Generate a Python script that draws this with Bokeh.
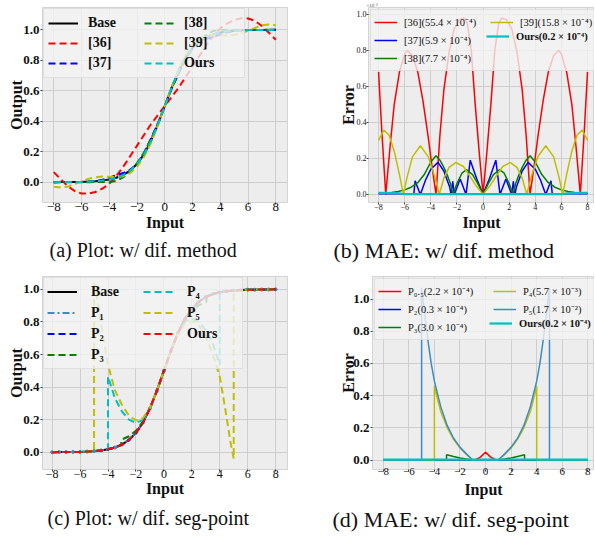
from bokeh.plotting import figure
from bokeh.models import Range1d, FixedTicker, Legend, LegendItem, Title, PrintfTickFormatter
from bokeh.layouts import row, column
from bokeh.embed import file_html
from bokeh.resources import INLINE

# ---------------- data ----------------
XTICKS = [-8, -6, -4, -2, 0, 2, 4, 6, 8]
XLABELS = {-8: "−8", -6: "−6", -4: "−4", -2: "−2", 0: "0", 2: "2", 4: "4", 6: "6", 8: "8"}
YTICKS = [0.0, 0.2, 0.4, 0.6, 0.8, 1.0]

# (a) outputs, x step 0.5
xa = [-8.0, -7.5, -7.0, -6.5, -6.0, -5.5, -5.0, -4.5, -4.0, -3.5, -3.0, -2.5, -2.0, -1.5, -1.0, -0.5, 0.0,
      0.5, 1.0, 1.5, 2.0, 2.5, 3.0, 3.5, 4.0, 4.5, 5.0, 5.5, 6.0, 6.5, 7.0, 7.5, 8.0]
base_a = [0.000, 0.001, 0.001, 0.002, 0.002, 0.004, 0.007, 0.011, 0.018, 0.029, 0.047, 0.076, 0.119, 0.182, 0.269, 0.378, 0.500,
          0.622, 0.731, 0.818, 0.881, 0.924, 0.953, 0.971, 0.982, 0.989, 0.993, 0.996, 0.998, 0.998, 0.999, 0.999, 1.000]
m36_a = [0.066, 0.020, -0.025, -0.058, -0.074, -0.075, -0.064, -0.042, -0.010, 0.040, 0.100, 0.170, 0.240, 0.310, 0.380, 0.440, 0.500,
         0.560, 0.620, 0.690, 0.760, 0.830, 0.900, 0.960, 1.010, 1.042, 1.064, 1.075, 1.074, 1.058, 1.025, 0.980, 0.934]
m37_a = [0.000, 0.001, 0.001, 0.002, 0.002, 0.004, 0.007, 0.016, 0.030, 0.046, 0.060, 0.082, 0.118, 0.190, 0.285, 0.385, 0.500,
         0.615, 0.715, 0.810, 0.882, 0.918, 0.940, 0.954, 0.970, 0.984, 0.993, 0.996, 0.998, 0.998, 0.999, 0.999, 1.000]
m38_a = [0.000, 0.000, 0.000, 0.000, 0.000, 0.000, 0.001, 0.001, 0.000, 0.008, 0.032, 0.070, 0.125, 0.194, 0.282, 0.385, 0.500,
         0.615, 0.718, 0.806, 0.875, 0.930, 0.968, 0.992, 1.000, 0.999, 0.999, 0.999, 0.998, 0.999, 0.999, 1.000, 1.000]
m39_a = [-0.030, -0.035, -0.029, -0.012, 0.005, 0.022, 0.033, 0.037, 0.036, 0.033, 0.039, 0.060, 0.101, 0.166, 0.258, 0.373, 0.500,
         0.627, 0.742, 0.834, 0.899, 0.940, 0.961, 0.967, 0.964, 0.963, 0.967, 0.978, 0.995, 1.012, 1.029, 1.035, 1.030]
ours_a = [0.000, 0.001, 0.001, 0.002, 0.002, 0.004, 0.007, 0.011, 0.018, 0.029, 0.047, 0.076, 0.119, 0.182, 0.269, 0.378, 0.500,
          0.622, 0.731, 0.818, 0.881, 0.924, 0.953, 0.971, 0.982, 0.989, 0.993, 0.996, 0.998, 0.998, 0.999, 0.999, 1.000]
a_labels = ["Base", "[36]", "[37]", "[38]", "[39]", "Ours"]

# (b) absolute errors (x1e-1)
b36_x = [-8.0, -7.75, -7.45, -7.1, -6.8, -6.4, -6.0, -5.8, -5.4, -5.0, -4.6, -4.2, -3.9, -3.6, -3.3, -3.0, -2.6, -2.2, -1.8, -1.45, -1.2, -0.9, -0.6, -0.3, 0.0,
         0.3, 0.6, 0.9, 1.2, 1.45, 1.8, 2.2, 2.6, 3.0, 3.3, 3.6, 3.9, 4.2, 4.6, 5.0, 5.4, 5.8, 6.0, 6.4, 6.8, 7.1, 7.45, 7.75, 8.0]
b36_y = [0.68, 0.35, 0.0, 0.28, 0.50, 0.68, 0.78, 0.80, 0.77, 0.68, 0.52, 0.32, 0.15, 0.0, 0.33, 0.58, 0.79, 0.92, 0.97, 0.98, 0.95, 0.80, 0.50, 0.24, 0.0,
         0.24, 0.50, 0.80, 0.95, 0.98, 0.97, 0.92, 0.79, 0.58, 0.33, 0.0, 0.15, 0.32, 0.52, 0.68, 0.77, 0.80, 0.78, 0.68, 0.50, 0.28, 0.0, 0.35, 0.68]
b37_x = [-8.0, -5.3, -5.2, -4.8, -4.4, -4.0, -3.45, -3.0, -2.55, -2.45, -2.32, -2.2, -1.75, -1.3, -0.98, -0.5, 0.0,
         0.5, 0.98, 1.3, 1.75, 2.2, 2.32, 2.45, 2.55, 3.0, 3.45, 4.0, 4.4, 4.8, 5.2, 5.3, 8.0]
b37_y = [0.003, 0.003, 0.075, 0.0, 0.08, 0.14, 0.178, 0.13, 0.04, 0.0, 0.072, 0.0, 0.085, 0.0, 0.19, 0.09, 0.0,
         0.09, 0.19, 0.0, 0.085, 0.0, 0.072, 0.0, 0.04, 0.13, 0.178, 0.14, 0.08, 0.0, 0.075, 0.003, 0.003]
b38_x = [-8.0, -7.0, -6.5, -6.0, -5.5, -5.0, -4.5, -4.0, -3.6, -3.3, -3.0, -2.7, -2.5, -2.3, -2.0, -1.6, -1.25, -0.8, -0.4, 0.0,
         0.4, 0.8, 1.25, 1.6, 2.0, 2.3, 2.5, 2.7, 3.0, 3.3, 3.6, 4.0, 4.5, 5.0, 5.5, 6.0, 6.5, 7.0, 8.0]
b38_y = [0.005, 0.010, 0.016, 0.025, 0.040, 0.065, 0.110, 0.180, 0.215, 0.190, 0.150, 0.100, 0.060, 0.0, 0.060, 0.120, 0.137, 0.110, 0.060, 0.0,
         0.060, 0.110, 0.137, 0.120, 0.060, 0.0, 0.060, 0.100, 0.150, 0.190, 0.215, 0.180, 0.110, 0.065, 0.040, 0.025, 0.016, 0.010, 0.005]
b39_x = [-8.0, -7.6, -7.2, -6.8, -6.4, -6.1, -5.8, -5.4, -4.8, -4.2, -3.7, -3.35, -3.0, -2.6, -2.1, -1.5, -1.0, -0.5, 0.0,
         0.5, 1.0, 1.5, 2.1, 2.6, 3.0, 3.35, 3.7, 4.2, 4.8, 5.4, 5.8, 6.1, 6.4, 6.8, 7.2, 7.6, 8.0]
b39_y = [0.30, 0.357, 0.33, 0.24, 0.11, 0.0, 0.10, 0.21, 0.27, 0.21, 0.10, 0.0, 0.09, 0.15, 0.177, 0.155, 0.10, 0.045, 0.0,
         0.045, 0.10, 0.155, 0.177, 0.15, 0.09, 0.0, 0.10, 0.21, 0.27, 0.21, 0.10, 0.0, 0.11, 0.24, 0.33, 0.357, 0.30]
bours_x = [-8.0, -6.6, -6.3, -6.1, 6.1, 6.3, 6.6, 8.0]
bours_y = [0.008, 0.007, 0.005, 0.001, 0.001, 0.005, 0.007, 0.008]
b_labels = ["[36](55.4 × 10⁻⁴)", "[37](5.9 × 10⁻⁴)", "[38](7.7 × 10⁻⁴)", "[39](15.8 × 10⁻⁴)", "Ours(0.2 × 10⁻⁴)"]
b_offset_text = "×10⁻¹"

# (c) outputs with different segment points
base_c = list(base_a)
p1_c = list(base_a)
p2_c = list(base_a)
ours_c = list(base_a)
p3_x = [-8.0, -7.5, -7.0, -6.5, -6.0, -5.5, -5.0, -4.5, -4.0, -3.5, -3.05, -3.05, -2.5, -2.0, -1.5, -1.0, -0.5, 0.0,
        0.5, 1.0, 1.5, 2.0, 2.5, 3.05, 3.05, 3.5, 4.0, 4.5, 5.0, 5.5, 6.0, 6.5, 7.0, 7.5, 8.0]
p3_y = [0.000, 0.001, 0.001, 0.002, 0.002, 0.004, 0.007, 0.011, 0.018, 0.029, 0.045, 0.077, 0.098, 0.132, 0.188, 0.269, 0.378, 0.500,
        0.622, 0.731, 0.812, 0.868, 0.902, 0.923, 0.955, 0.971, 0.982, 0.989, 0.993, 0.996, 0.998, 0.998, 0.999, 0.999, 1.000]
p4_x = [-8.0, -7.0, -6.0, -5.0, -4.5, -4.0, -4.0, -3.5, -3.0, -2.5, -2.0, -1.5, -1.0, -0.5, 0.0,
        0.5, 1.0, 1.5, 2.0, 2.5, 3.0, 3.5, 4.0, 4.0, 4.5, 5.0, 6.0, 7.0, 8.0]
p4_y = [0.000, 0.001, 0.002, 0.007, 0.011, 0.018, 0.465, 0.330, 0.250, 0.200, 0.180, 0.198, 0.270, 0.378, 0.500,
        0.622, 0.730, 0.802, 0.820, 0.800, 0.750, 0.670, 0.535, 0.982, 0.989, 0.993, 0.998, 0.999, 1.000]
p5_x = [-8.0, -7.0, -6.0, -5.5, -5.0, -5.0, -4.75, -4.5, -4.25, -4.0, -3.5, -3.0, -2.5, -2.0, -1.5, -1.0, -0.5, 0.0,
        0.5, 1.0, 1.5, 2.0, 2.5, 3.0, 3.5, 4.0, 4.25, 4.5, 4.75, 5.0, 5.0, 5.5, 6.0, 7.0, 8.0]
p5_y = [0.000, 0.001, 0.002, 0.004, 0.007, 1.040, 0.930, 0.790, 0.660, 0.535, 0.380, 0.290, 0.225, 0.195, 0.210, 0.270, 0.378, 0.500,
        0.622, 0.730, 0.790, 0.805, 0.780, 0.710, 0.600, 0.465, 0.340, 0.210, 0.070, -0.040, 0.993, 0.996, 0.998, 0.999, 1.000]
c_labels = ["Base", "P₁", "P₂", "P₃", "P₄", "P₅", "Ours"]

# (d) absolute errors with different segment points
d05_x = [-8.0, -0.8, -0.4, 0.0, 0.4, 0.8, 8.0]
d05_y = [0.0, 0.0, 0.018, 0.048, 0.018, 0.0, 0.0]
d2_x = [-8.0, 0.0, 8.0]
d2_y = [0.001, 0.001, 0.001]
d3_x = [-8.0, -3.05, -3.05, -2.5, -2.0, -1.5, -1.0, 1.0, 1.5, 2.0, 2.5, 3.05, 3.05, 8.0]
d3_y = [0.0, 0.0, 0.032, 0.022, 0.013, 0.006, 0.0, 0.0, 0.006, 0.013, 0.022, 0.032, 0.0, 0.0]
d4_x = [-8.0, -4.0, -4.0, -3.75, -3.5, -3.0, -2.5, -2.0, -1.5, -1.0, 1.0, 1.5, 2.0, 2.5, 3.0, 3.5, 3.75, 4.0, 4.0, 8.0]
d4_y = [0.0, 0.0, 0.46, 0.375, 0.30, 0.20, 0.128, 0.075, 0.035, 0.0, 0.0, 0.035, 0.075, 0.128, 0.20, 0.30, 0.375, 0.46, 0.0, 0.0]
d5_x = [-8.0, -5.0, -5.0, -4.75, -4.5, -4.25, -4.0, -3.5, -3.0, -2.5, -2.0, -1.5, -1.0,
        1.0, 1.5, 2.0, 2.5, 3.0, 3.5, 4.0, 4.25, 4.5, 4.75, 5.0, 5.0, 8.0]
d5_y = [0.0, 0.0, 1.07, 0.90, 0.74, 0.60, 0.49, 0.33, 0.215, 0.135, 0.08, 0.038, 0.0,
        0.0, 0.038, 0.08, 0.135, 0.215, 0.33, 0.49, 0.60, 0.74, 0.90, 1.07, 0.0, 0.0]
dours_x = [-8.0, 0.0, 8.0]
dours_y = [0.002, 0.002, 0.002]
d_labels = ["P₀.₅(2.2 × 10⁻⁴)", "P₂(0.3 × 10⁻⁴)", "P₃(3.0 × 10⁻⁴)", "P₄(5.7 × 10⁻³)", "P₅(1.7 × 10⁻²)", "Ours(0.2 × 10⁻⁴)"]

CAPTIONS = ["(a) Plot: w/ dif. method", "(b) MAE: w/ dif. method",
            "(c) Plot: w/ dif. seg-point", "(d) MAE: w/ dif. seg-point"]

# ---------------- style ----------------
SERIF = "Liberation Serif"
BG = "#ededed"
GRID = "#cecece"
OUTLINE = "#d4d4d4"
RED, BLUE, GREEN, YEL, CYAN, STEEL = "#ff0000", "#0000ff", "#008000", "#bfbf00", "#00bfbf", "#3a8cc8"
DASH = "7 4"
TXT = "#111111"


def make_fig(w, h, xr, yr, borders, xt, yt, xlab_st, ylab_st):
    bl, br, bt, bb = borders
    p = figure(width=w, height=h, x_range=Range1d(*xr), y_range=Range1d(*yr),
               output_backend="svg", toolbar_location=None, tools="",
               min_border_left=bl, min_border_right=br, min_border_top=bt, min_border_bottom=bb)
    p.background_fill_color = BG
    p.border_fill_color = "white"
    p.outline_line_color = OUTLINE
    p.grid.grid_line_color = GRID
    p.grid.grid_line_width = 1
    p.xaxis.ticker = FixedTicker(ticks=XTICKS)
    p.yaxis.ticker = FixedTicker(ticks=YTICKS)
    p.xaxis.major_label_overrides = XLABELS
    p.yaxis.formatter = PrintfTickFormatter(format="%.1f")
    for ax, (sz, st, tick_out, lab_st), axl_st in ((p.xaxis, xt, xlab_st), (p.yaxis, yt, ylab_st)):
        ax.axis_line_color = None
        ax.major_tick_in = 0
        ax.major_tick_out = tick_out
        ax.major_tick_line_color = "#444444"
        ax.minor_tick_line_color = None
        ax.major_label_text_font = SERIF
        ax.major_label_text_font_size = sz
        ax.major_label_text_font_style = st
        ax.major_label_text_color = TXT
        ax.major_label_standoff = lab_st
        ax.axis_label_text_font = SERIF
        ax.axis_label_text_font_style = "bold"
        ax.axis_label_text_font_size = "16px"
        ax.axis_label_text_color = TXT
        ax.axis_label_standoff = axl_st
    p.xaxis.axis_label = "Input"
    return p


def add_legend(p, items, size, style, gw, gh, standoff, lw, padding, margin, bold_index=None, dummy=None):
    common = dict(location="top_left", ncols=2, orientation="vertical",
                  label_text_font=SERIF, label_text_font_size=size, label_text_color=TXT,
                  glyph_width=gw, glyph_height=gh, label_height=gh, label_width=lw,
                  label_standoff=standoff, spacing=0, padding=padding, margin=margin)
    main_items = []
    for i, (l, r) in enumerate(items):
        if i == bold_index:
            main_items.append(LegendItem(label=" ", renderers=[dummy]))
        else:
            main_items.append(LegendItem(label=l, renderers=r))
    p.add_layout(Legend(items=main_items, label_text_font_style=style,
                        background_fill_color="#f3f3f3", background_fill_alpha=0.8,
                        border_line_color="#cccccc", border_line_width=1, **common))
    if bold_index is not None:
        over_items = []
        for i, (l, r) in enumerate(items):
            if i == bold_index:
                over_items.append(LegendItem(label=l, renderers=r))
            else:
                over_items.append(LegendItem(label=" ", renderers=[dummy]))
        p.add_layout(Legend(items=over_items, label_text_font_style="bold",
                            background_fill_alpha=0.0, border_line_color=None, **common))


def add_caption(p, text, size, offset, standoff):
    p.add_layout(Title(text=text, align="left", offset=offset, standoff=standoff,
                       text_font=SERIF, text_font_size=size, text_font_style="normal",
                       text_color=TXT), "below")


# ---------------- (a) ----------------
pa = make_fig(300, 270, (-8.81, 8.84), (-0.133, 1.146), (42, 13, 7, 68),
              ("13px", "normal", 2, -2), ("13px", "bold", 2, 1), 0, -5)
pa.yaxis.axis_label = "Output"
ra = [pa.line(xa, base_a, line_color="black", line_width=2),
      pa.line(xa, m36_a, line_color=RED, line_width=2, line_dash=DASH),
      pa.line(xa, m37_a, line_color=BLUE, line_width=2, line_dash=DASH),
      pa.line(xa, m38_a, line_color=GREEN, line_width=2, line_dash=DASH),
      pa.line(xa, m39_a, line_color=YEL, line_width=2, line_dash=DASH),
      pa.line(xa, ours_a, line_color=CYAN, line_width=2, line_dash=DASH)]
add_legend(pa, [(l, [r]) for l, r in zip(a_labels, ra)], "14px", "bold", 30, 20, 10, 56, 4, 1)
add_caption(pa, CAPTIONS[0], "20px", 7, 6)

# ---------------- (b) ----------------
pb = make_fig(294, 270, (-8.77, 8.535), (-0.045, 1.038), (68, 0, 5, 65),
              ("8px", "normal", 2, -1), ("8px", "normal", 2, 0), 1, -3)
pb.yaxis.axis_label = "Error"
pb.add_layout(Title(text=b_offset_text, align="left", offset=-2, standoff=0,
                    text_font=SERIF, text_font_size="5px", text_font_style="normal",
                    text_color="#444444"), "above")
rb = [pb.line(b36_x, b36_y, line_color=RED, line_width=1.5),
      pb.line(b37_x, b37_y, line_color=BLUE, line_width=1.5),
      pb.line(b38_x, b38_y, line_color=GREEN, line_width=1.5),
      pb.line(b39_x, b39_y, line_color=YEL, line_width=1.5),
      pb.line(bours_x, bours_y, line_color=CYAN, line_width=2.2)]
b_dummy = pb.line(bours_x, bours_y, line_alpha=0.0)
add_legend(pb, [(l, [r]) for l, r in zip(b_labels, rb)], "10.5px", "normal", 23, 18, 7, 86, 3, 2,
           bold_index=4, dummy=b_dummy)
add_caption(pb, CAPTIONS[1], "22px", -35, 5)

# ---------------- (c) ----------------
pc = make_fig(300, 268, (-8.69, 8.85), (-0.106, 1.079), (42, 13, 6, 68),
              ("12px", "normal", 2, -2), ("13px", "bold", 2, 1), -1, -5)
pc.yaxis.axis_label = "Output"
rc_base = pc.line(xa, base_c, line_color="black", line_width=2)
rc_p1 = pc.line(xa, p1_c, line_color=STEEL, line_width=2, line_dash="7 3 2 3")
pc.scatter(xa, p1_c, size=3, color=STEEL)
rc_p2 = pc.line(xa, p2_c, line_color=BLUE, line_width=2, line_dash=DASH)
rc_p3 = pc.line(p3_x, p3_y, line_color=GREEN, line_width=2, line_dash=DASH)
rc_p4 = pc.line(p4_x, p4_y, line_color=CYAN, line_width=2, line_dash=DASH)
rc_p5 = pc.line(p5_x, p5_y, line_color=YEL, line_width=2, line_dash=DASH)
rc_ours = pc.line(xa, ours_c, line_color=RED, line_width=2, line_dash=DASH)
add_legend(pc, list(zip(c_labels, [[rc_base], [rc_p1], [rc_p2], [rc_p3], [rc_p4], [rc_p5], [rc_ours]])),
           "14px", "bold", 30, 21, 14, 52, 3, 1)
add_caption(pc, CAPTIONS[2], "20px", 5, 11)

# ---------------- (d) ----------------
pd_ = make_fig(294, 268, (-8.84, 8.52), (-0.059, 1.14), (72, 0, 2, 69),
               ("11px", "normal", 2, -4), ("13px", "bold", 2, 1), 3, -7)
pd_.yaxis.axis_label = "Error"
rd = [pd_.line(d05_x, d05_y, line_color=RED, line_width=1.5),
      pd_.line(d2_x, d2_y, line_color=BLUE, line_width=1.5),
      pd_.line(d3_x, d3_y, line_color=GREEN, line_width=1.5),
      pd_.line(d4_x, d4_y, line_color=YEL, line_width=1.5),
      pd_.line(d5_x, d5_y, line_color=STEEL, line_width=1.5),
      pd_.line(dours_x, dours_y, line_color=CYAN, line_width=2.2)]
d_dummy = pd_.line(dours_x, dours_y, line_alpha=0.0)
add_legend(pd_, [(l, [r]) for l, r in zip(d_labels, rd)], "10.5px", "normal", 23, 18, 7, 85, 3, 2,
           bold_index=5, dummy=d_dummy)
add_caption(pd_, CAPTIONS[3], "22px", -40, 9)

layout = column(row(pa, pb, spacing=0), row(pc, pd_, spacing=0), spacing=0)
open("out.html", "w").write(file_html(layout, INLINE))
